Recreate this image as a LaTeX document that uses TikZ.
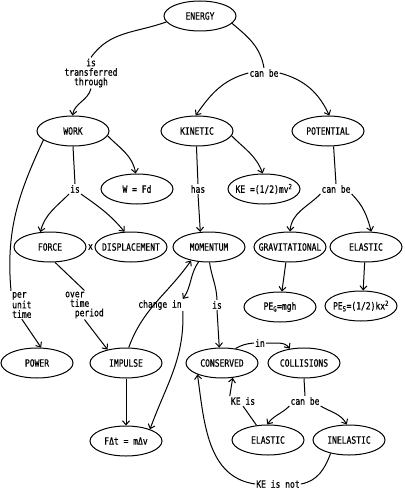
\documentclass[tikz,border=0pt]{standalone}
\usepackage{fontspec}
\newfontfamily\plotfont[FakeStretch=0.8,FakeBold=0.6]{DejaVu Sans Mono}
\usetikzlibrary{arrows.meta,shapes.geometric}
\begin{document}
\begin{tikzpicture}[x=1pt,y=-1pt,
  concept/.style={draw,ellipse,line width=1pt,minimum width=72pt,minimum height=30pt,inner xsep=-14pt,inner ysep=0pt,font=\plotfont\fontsize{10}{9.5}\selectfont},
  lbl/.style={inner sep=1pt,align=center,font=\plotfont\fontsize{10}{9.5}\selectfont},
  link/.style={line width=1pt},
  arr/.style={line width=1pt,-{Straight Barb[length=4pt,width=7pt]}}]
\useasboundingbox (0,0) rectangle (404,492);
% concepts
\node[concept] (energy) at (200,16) {ENERGY};
\node[concept] (work) at (73,131) {WORK};
\node[concept] (kin) at (197,131) {KINETIC};
\node[concept] (pot) at (328,131) {POTENTIAL};
\node[concept] (wfd) at (137,189) {W = Fd};
\node[concept] (ke) at (264,189) {KE =(1/2)mv\textsuperscript{2}};
\node[concept] (force) at (50,247) {FORCE};
\node[concept] (disp) at (131,247) {DISPLACEMENT};
\node[concept] (mom) at (209,247) {MOMENTUM};
\node[concept] (grav) at (290,247) {GRAVITATIONAL};
\node[concept] (elA) at (366,247) {ELASTIC};
\node[concept] (peg) at (280,307) {PE\textsubscript{G}=mgh};
\node[concept] (pes) at (361,306) {PE\textsubscript{S}=(1/2)kx\textsuperscript{2}};
\node[concept] (power) at (37,363) {POWER};
\node[concept] (imp) at (126,363) {IMPULSE};
\node[concept] (cons) at (222,363) {CONSERVED};
\node[concept] (coll) at (304,363) {COLLISIONS};
\node[concept] (fat) at (126,441) {FΔt = mΔv};
\node[concept] (elB) at (268,440) {ELASTIC};
\node[concept] (inel) at (349,440) {INELASTIC};
\node[lbl] (times) at (90.5,247) {x};
% labels
\node[lbl] (l1) at (91,73) {is\\transferred\\through};
\node[lbl] (l2) at (264,73) {can be};
\node[lbl] (l3) at (75,189) {is};
\node[lbl] (l4) at (198,189) {has};
\node[lbl] (l5) at (336,189) {can be};
\node[lbl,align=left,anchor=west] (l6) at (11,305) {per\\unit\\time};
\node[lbl,align=left,anchor=west] (l7) at (64,305) {over\\\hphantom{o}time\\\hphantom{ov}period};
\node[lbl] (l8) at (160,305) {change in};
\node[lbl] (l9) at (217,305) {is};
\node[lbl] (l10) at (260,343) {in};
\node[lbl] (l11) at (243,401) {KE is};
\node[lbl] (l12) at (305,401) {can be};
\node[lbl] (l13) at (278,484) {KE is not};
% connectors
\draw[link] (energy.190) to[out=200,in=55] (l1.north);
\draw[arr] (l1.south) to[out=-105,in=80] (work.92);
\draw[link] (energy.347) to[out=-40,in=100] (l2.north);
\draw[arr] (l2.west) to[out=195,in=55] (kin.95);
\draw[arr] (l2.east) to[out=-15,in=115] (pot.85);
\draw[arr] (work.352) to[out=-45,in=100] (wfd.95);
\draw[link] (work.south) -- (l3.north);
\draw[arr] (l3.south west) to[out=225,in=75] (force.123);
\draw[arr] (l3.south east) to[out=-35,in=130] (disp.113);
\draw[link] (work.197) to[out=-115,in=95] (l6.north west);
\draw[arr] (l6.south) -- (power.75);
\draw[link] (kin.268) -- (l4.north);
\draw[arr] (l4.south) -- (mom.120);
\draw[arr] (kin.352) to[out=-45,in=110] (ke.95);
\draw[link] (pot.290) -- (l5.north);
\draw[arr] (l5.south west) to[out=225,in=85] (grav.90);
\draw[arr] (l5.south east) to[out=-45,in=105] (elA.71);
\draw[arr] (grav.255) -- (peg.83);
\draw[arr] (elA.265) -- (pes.82);
\draw[link] (force.288) -- (l7.north);
\draw[arr] (l7.south) -- (imp.144);
\draw[arr] (imp.80) to[out=70,in=235] (mom.217);
\draw[arr] (mom.235) to[out=235,in=55] (l8.north east);
\draw[arr] (l8.south east) to[out=-88,in=70] (fat.26);
\draw[link] (mom.272) to[out=-82,in=92] (l9.north);
\draw[arr] (l9.south) -- (cons.100);
\draw[arr] (imp.270) -- (fat.90);
\draw[link] (cons.47) to[out=30,in=185] (l10.west);
\draw[arr] (l10.east) to[out=-5,in=125] (coll.135);
\draw[link] (coll.270) -- (l12.north);
\draw[arr] (l12.south west) to[out=225,in=55] (elB.93);
\draw[arr] (l12.south east) to[out=-30,in=120] (inel.98);
\draw[link] (elB.128) -- (l11.south);
\draw[arr] (l11.north west) -- (cons.306);
\draw[link] (inel.216) to[out=250,in=10] (l13.east);
\draw[arr] (l13.west) to[out=172,in=-82] (cons.205);
\end{tikzpicture}
\end{document}
